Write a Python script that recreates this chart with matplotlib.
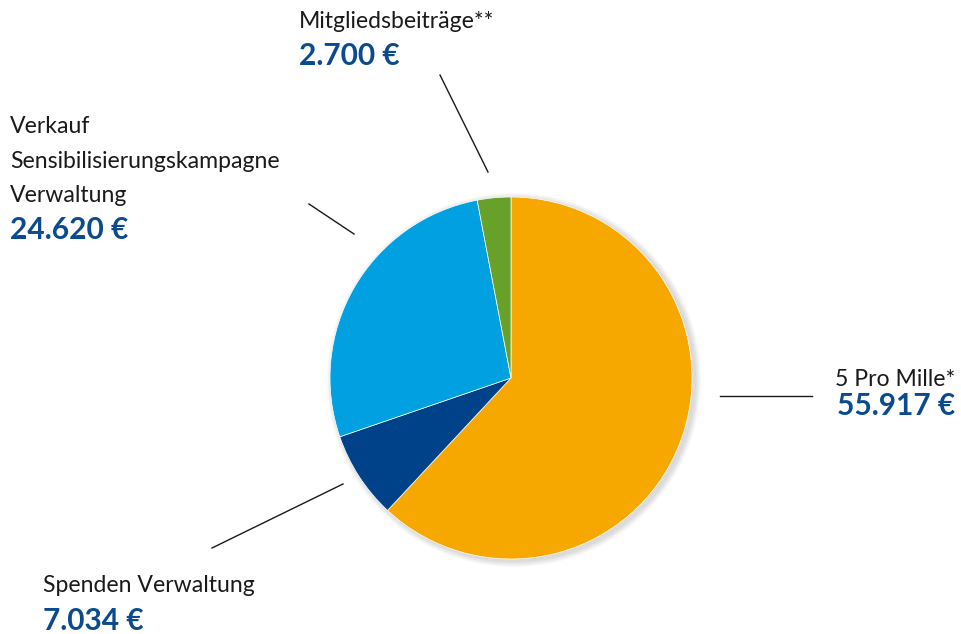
import matplotlib.pyplot as plt
from matplotlib.patches import Circle

# data
labels = [["5 Pro Mille*"], ["Spenden Verwaltung"],
          ["Verkauf", "Sensibilisierungskampagne", "Verwaltung"],
          ["Mitgliedsbeiträge**"]]
values = [55917, 7034, 24620, 2700]
value_texts = ["55.917 €", "7.034 €", "24.620 €", "2.700 €"]
colors = ["#F6A800", "#00428A", "#00A0E1", "#68A12A"]

W, H = 961, 634
BLUE = "#0B4A8E"
plt.rcParams['font.family'] = ['Lato', 'DejaVu Sans']

fig = plt.figure(figsize=(W / 100, H / 100), dpi=100)
ax = fig.add_axes([0, 0, 1, 1])

cx, cy, r = 511, H - 378, 181

# soft shadow behind the pie
for k in range(6):
    ax.add_patch(Circle((cx + 3, cy - 2), r + 1 + k, color="#000000",
                        alpha=0.025, lw=0, zorder=0))

ax.pie(values, colors=colors, startangle=90, counterclock=False,
       center=(cx, cy), radius=r, frame=True,
       wedgeprops=dict(linewidth=0.5, edgecolor="white"))
ax.set_xlim(0, W)
ax.set_ylim(0, H)
ax.set_aspect('equal')
ax.axis('off')

# leader lines (pixel coords, y from top)
lines = [((720, 396), (812, 396)),
         ((212, 548), (343, 484)),
         ((309, 204), (354, 234)),
         ((440, 75), (488, 172))]
for (x0, y0), (x1, y1) in lines:
    ax.plot([x0, x1], [H - y0, H - y1], color="#1a1a1a", lw=1)

# (x, baseline of first line, alignment)
label_pos = [(955, 386, 'right'), (43, 592, 'left'), (10, 133, 'left'), (299, 28, 'left')]
value_pos = [(955, 415, 'right'), (43, 630, 'left'), (10, 239, 'left'), (299, 65, 'left')]
step = 34.5

for lines_txt, (x, y, ha) in zip(labels, label_pos):
    for i, t in enumerate(lines_txt):
        ax.text(x, H - y - i * step, t, fontsize=16.6, color="#1a1a1a",
                ha=ha, va='baseline')
for vt, (x, y, ha) in zip(value_texts, value_pos):
    ax.text(x, H - y, vt, fontsize=21.5, color=BLUE, ha=ha,
            va='baseline', fontweight='bold')

fig.savefig("out.png", dpi=100)
